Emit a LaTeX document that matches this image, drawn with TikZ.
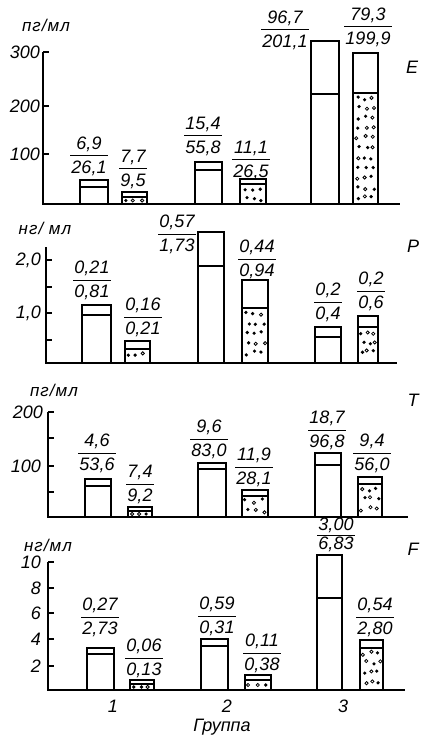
\documentclass[tikz,border=0pt]{standalone}
\usepackage{fontspec}
\setmainfont{Liberation Sans}
\newcommand\speckle[4]{%
  \pgfmathtruncatemacro\spNy{max(0,floor(((#4)-(#3)-8)/10))}%
  \foreach \j in {0,...,\spNy}{%
    \foreach \i in {0,1,2}{%
      \pgfmathsetmacro\spx{#1+5+\i*((#2)-(#1)-10)/2+mod(\j,2)*2-1+rand*1.5}%
      \pgfmathsetmacro\spy{((#4)-(#3)<12) ? ((#3)+(#4))/2 : (#3)+5+\j*10+rand*2}%
      \pgfmathsetmacro\spk{rnd}%
      \ifdim\spk pt<0.6pt
        \fill (\spx,\spy) circle[radius=1.8pt];
      \else
        \draw[line width=0.8pt] (\spx,\spy) circle[radius=1.6pt];
      \fi
    }}}
\newcommand\colbar[6]{%
  \ifnum#6=1 \speckle{#1}{#2}{#4}{#5}\fi
  \draw[innerline] (#1,#4) -- (#2,#4);
  \draw[barline] (#1,#5) |- (#2,#3) -- (#2,#5);}
\newcommand\fraclab[6][]{%
  \node[frac,#1] (#2) at (#3,#4) {#5\\#6};
  \draw[fracline] (#2.west) -- (#2.east);}
\begin{document}
\begin{tikzpicture}[x=1pt,y=-1pt,
  lab/.style={font=\fontsize{18}{24}\selectfont\itshape, inner sep=0pt},
  unit/.style={lab, font=\fontsize{17}{24}\selectfont\itshape\addfontfeatures{LetterSpace=6}},
  frac/.style={lab, align=center, inner xsep=1pt, inner ysep=0pt},
  fracline/.style={line width=1pt},
  barline/.style={line width=2.5pt},
  innerline/.style={line width=1.2pt},
  axisline/.style={line width=2pt},
  tickmark/.style={line width=1.3pt}]
\useasboundingbox (0,0) rectangle (421,738);
\pgfmathsetseed{7}
% ---------------- panel 1 (E)
\node[unit] (u1) at (46,25) {пг/мл};
\node[lab] (E) at (412,67) {E};
\colbar{80}{108}{180}{187}{204}{0}
\colbar{122}{147}{192}{197}{204}{1}
\colbar{195}{222}{162}{170}{204}{0}
\colbar{240}{266}{179}{184}{204}{1}
\colbar{311}{339}{41}{94}{204}{0}
\colbar{353}{378}{53}{93}{204}{1}
\coordinate (a1t) at (43,52);
\coordinate (a1o) at (43,204);
\coordinate (a1e) at (400,204);
\draw[axisline] (a1t) -- (a1o) -- (a1e);
\foreach \yy/\tl/\nm in {52/300/a, 106/200/b, 154/100/c}{
  \draw[tickmark] (43,\yy) -- (49,\yy);
  \node[lab, anchor=east] (t1\nm) at (40,\yy) {\tl};}
\fraclab{f11}{89}{156}{6,9}{26,1}
\fraclab{f12}{133}{169}{7,7}{9,5}
\fraclab{f13}{203}{136}{15,4}{55,8}
\fraclab{f14}{251}{160}{11,1}{26,5}
\fraclab{f15}{285}{30}{96,7}{201,1}
\fraclab{f16}{368}{27}{79,3}{199,9}
% ---------------- panel 2 (P)
\node[unit] (u2) at (45,228) {нг/ мл};
\node[lab] (P) at (413,246) {P};
\colbar{82}{111}{305}{315}{363}{0}
\colbar{125}{150}{341}{349}{363}{1}
\colbar{198}{224}{232}{266}{363}{0}
\colbar{242}{268}{280}{308}{363}{1}
\colbar{315}{341}{327}{337}{363}{0}
\colbar{358}{378}{316}{327}{363}{1}
\coordinate (a2t) at (46,247);
\coordinate (a2o) at (46,363);
\coordinate (a2e) at (397,363);
\draw[axisline] (a2t) -- (a2o) -- (a2e);
\foreach \yy in {260,287,313,340}{\draw[tickmark] (46,\yy) -- (52,\yy);}
\node[lab, anchor=east] (t2a) at (41,260) {2,0};
\node[lab, anchor=east] (t2b) at (41,313) {1,0};
\fraclab{f21}{92}{280}{0,21}{0,81}
\fraclab{f22}{143}{317}{0,16}{0,21}
\fraclab{f23}{177}{234}{0,57}{1,73}
\fraclab{f24}{257}{259}{0,44}{0,94}
\fraclab{f25}{328}{302}{0,2}{0,4}
\fraclab{f26}{371}{291}{0,2}{0,6}
% ---------------- panel 3 (T)
\node[unit] (u3) at (54,390) {пг/мл};
\node[lab] (T) at (413,400) {T};
\colbar{85}{111}{479}{486}{517}{0}
\colbar{128}{152}{507}{511}{517}{1}
\colbar{198}{226}{463}{469}{517}{0}
\colbar{242}{268}{490}{496}{517}{1}
\colbar{315}{341}{453}{465}{517}{0}
\colbar{358}{382}{477}{484}{517}{1}
\coordinate (a3t) at (48,412);
\coordinate (a3o) at (48,517);
\coordinate (a3e) at (408,517);
\draw[axisline] (a3t) -- (a3o) -- (a3e);
\foreach \yy in {412,438,466,492}{\draw[tickmark] (48,\yy) -- (54,\yy);}
\node[lab, anchor=east] (t3a) at (43,412) {200};
\node[lab, anchor=east] (t3b) at (41,466) {100};
\fraclab{f31}{97}{453}{4,6}{53,6}
\fraclab{f32}{140}{484}{7,4}{9,2}
\fraclab{f33}{209}{439}{9,6}{83,0}
\fraclab{f34}{254}{467}{11,9}{28,1}
\fraclab{f35}{327}{430}{18,7}{96,8}
\fraclab{f36}{372}{453}{9,4}{56,0}
% ---------------- panel 4 (F)
\node[unit] (u4) at (48,545) {нг/мл};
\node[lab] (F) at (413,549) {F};
\colbar{87}{114}{648}{654}{690}{0}
\colbar{130}{154}{680}{684}{690}{1}
\colbar{201}{228}{639}{646}{690}{0}
\colbar{245}{271}{675}{680}{690}{1}
\colbar{317}{342}{555}{598}{690}{0}
\colbar{360}{383}{640}{648}{690}{1}
\coordinate (a4t) at (48,562);
\coordinate (a4o) at (48,690);
\coordinate (a4e) at (405,690);
\draw[axisline] (a4t) -- (a4o) -- (a4e);
\foreach \yy/\tl/\nm in {562/10/a, 588/8/b, 613/6/c, 639/4/d, 666/2/e}{
  \draw[tickmark] (48,\yy) -- (54,\yy);
  \node[lab, anchor=east] (t4\nm) at (41,\yy) {\tl};}
\fraclab{f41}{100}{617}{0,27}{2,73}
\fraclab{f42}{144}{658}{0,06}{0,13}
\fraclab{f43}{217}{616}{0,59}{0,31}
\fraclab{f44}{262}{653}{0,11}{0,38}
\fraclab[font=\fontsize{18}{19}\selectfont\itshape]{f45}{336}{535}{3,00}{6,83}
\fraclab{f46}{375}{617}{0,54}{2,80}
% ---------------- x labels
\node[lab] (g1) at (113,706) {1};
\node[lab] (g2) at (227,706) {2};
\node[lab] (g3) at (343,706) {3};
\node[lab] (gr) at (222,727) {Группа};
\end{tikzpicture}
\end{document}
